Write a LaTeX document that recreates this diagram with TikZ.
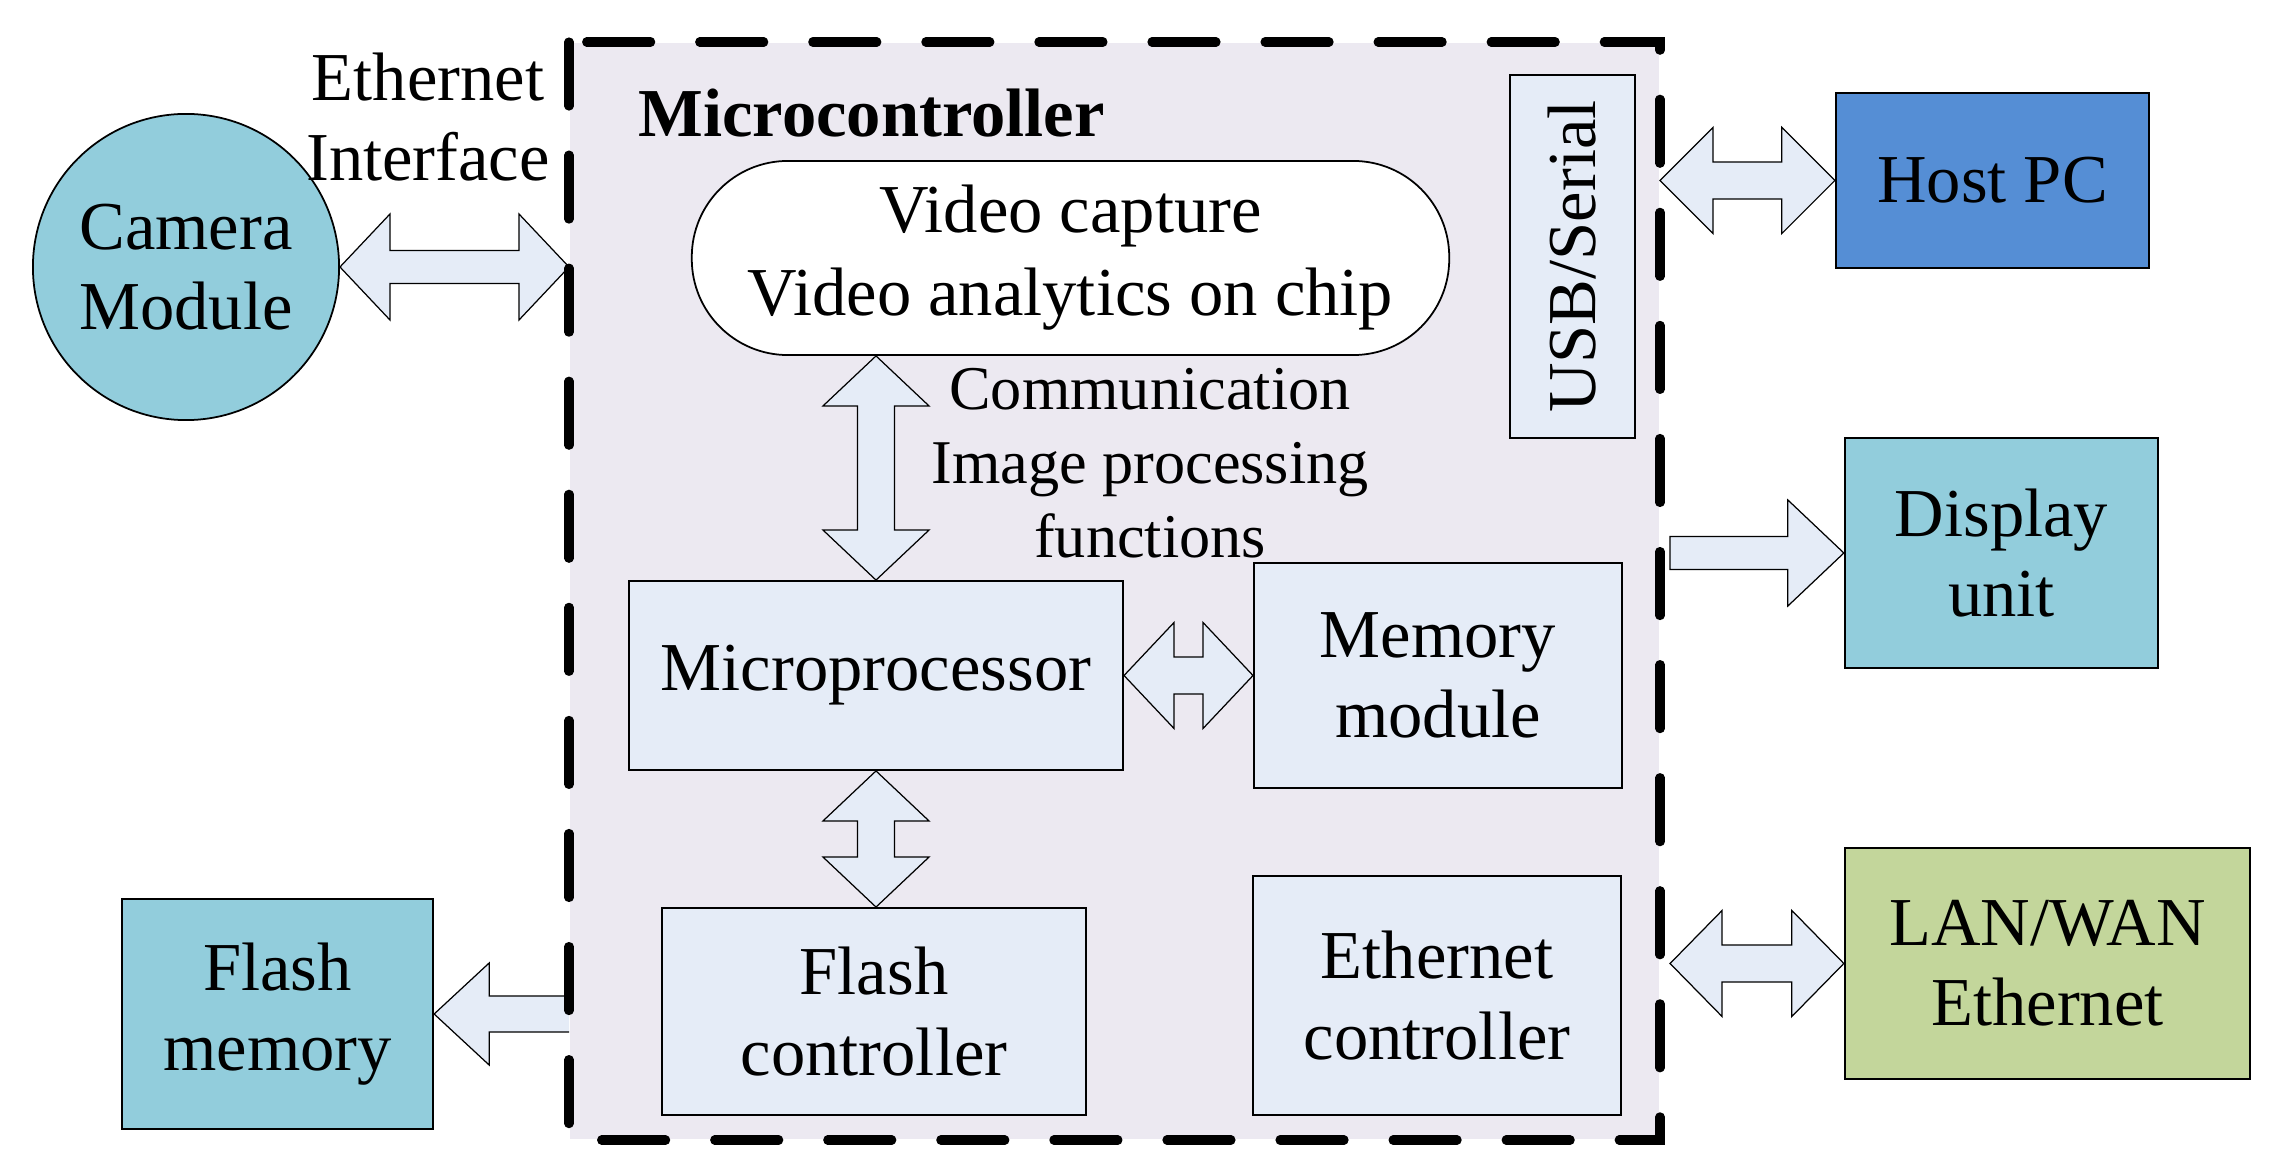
\documentclass[tikz,border=0pt]{standalone}
\usepackage{fontspec}
\setmainfont{Liberation Serif}
\usetikzlibrary{calc}
\definecolor{mcfill}{RGB}{236,233,241}
\definecolor{lblue}{RGB}{229,236,247}
\definecolor{tealbox}{RGB}{146,205,220}
\definecolor{hostblue}{RGB}{85,142,213}
\definecolor{lgreen}{RGB}{195,214,155}
\tikzset{
 lbl/.style={font=\fontsize{19.5}{22.8}\selectfont, align=center, inner sep=0pt},
 inbox/.style={lbl, draw, line width=0.5pt, fill=lblue, rectangle},
 extbox/.style={lbl, draw, line width=0.6pt, rectangle},
 barrow/.style={draw, fill=lblue, line width=0.35pt, line join=miter},
 mcborder/.style={line width=2.6pt, line cap=round, dash pattern=on 6.4mm off 4.9mm},
}
% horizontal double block arrow: #1 left tip, #2 right tip, #3 head length, #4 head half width, #5 shaft half width
\newcommand\hdblarrow[5]{%
 \draw[barrow] let \p1=#1, \p2=#2 in
 (\x1,\y1) -- (\x1+#3,\y1+#4) -- (\x1+#3,\y1+#5) -- (\x2-#3,\y1+#5) -- (\x2-#3,\y1+#4)
 -- (\x2,\y1) -- (\x2-#3,\y1-#4) -- (\x2-#3,\y1-#5) -- (\x1+#3,\y1-#5) -- (\x1+#3,\y1-#4) -- cycle;}
% vertical double block arrow: #1 top tip, #2 bottom tip
\newcommand\vdblarrow[5]{%
 \draw[barrow] let \p1=#1, \p2=#2 in
 (\x1,\y1) -- (\x1+#4,\y1-#3) -- (\x1+#5,\y1-#3) -- (\x1+#5,\y2+#3) -- (\x1+#4,\y2+#3)
 -- (\x1,\y2) -- (\x1-#4,\y2+#3) -- (\x1-#5,\y2+#3) -- (\x1-#5,\y1-#3) -- (\x1-#4,\y1-#3) -- cycle;}
% right-pointing block arrow: #1 tail, #2 tip
\newcommand\rblockarrow[5]{%
 \draw[barrow] let \p1=#1, \p2=#2 in
 (\x1,\y1+#5) -- (\x2-#3,\y1+#5) -- (\x2-#3,\y1+#4) -- (\x2,\y1) -- (\x2-#3,\y1-#4)
 -- (\x2-#3,\y1-#5) -- (\x1,\y1-#5) -- cycle;}
% left-pointing block arrow with open tail: #1 tip (left), #2 tail (right)
\newcommand\lblockarrow[5]{%
 \fill[lblue] let \p1=#1, \p2=#2 in
 (\x1,\y1) -- (\x1+#3,\y1+#4) -- (\x1+#3,\y1+#5) -- (\x2,\y1+#5) -- (\x2,\y1-#5)
 -- (\x1+#3,\y1-#5) -- (\x1+#3,\y1-#4) -- cycle;
 \draw[barrow, fill=none] let \p1=#1, \p2=#2 in
 (\x2,\y1+#5) -- (\x1+#3,\y1+#5) -- (\x1+#3,\y1+#4) -- (\x1,\y1) -- (\x1+#3,\y1-#4)
 -- (\x1+#3,\y1-#5) -- (\x2,\y1-#5);}
\begin{document}
\begin{tikzpicture}[x=0.01cm, y=-0.01cm]
\useasboundingbox (0,0) rectangle (2288,1167);
% microcontroller area
\node[fill=mcfill, minimum width=10.89cm, minimum height=10.96cm, inner sep=0pt, anchor=north west] (mc) at (569,42) {};
% external blocks
\node[circle, draw, line width=0.5pt, fill=tealbox, minimum size=3.06cm, lbl] (cam) at (186,267) {Camera\\Module};
\node[extbox, fill=hostblue, minimum width=3.13cm, minimum height=1.75cm] (host) at (1992.5,180.5) {Host PC};
\node[extbox, fill=tealbox, minimum width=3.13cm, minimum height=2.30cm] (disp) at (2001.5,553) {Display\\unit};
\node[extbox, fill=tealbox, minimum width=3.11cm, minimum height=2.30cm] (fm) at (277.5,1014) {Flash\\memory};
\node[extbox, fill=lgreen, minimum width=4.05cm, minimum height=2.31cm] (lan) at (2047.5,963.5) {LAN/WAN\\Ethernet};
% internal blocks
\node[lbl, draw, fill=white, line width=0.5pt, rounded corners=0.96cm, minimum width=7.57cm, minimum height=1.94cm, font=\fontsize{19.5}{23.6}\selectfont] (vid) at (1070.5,258) {\raisebox{-0.04cm}{Video capture}\\\raisebox{-0.04cm}{Video analytics on chip}};
\node[inbox, minimum width=1.25cm, minimum height=3.63cm] (usb) at (1572.5,256.5) {\rotatebox{90}{USB/Serial}};
\node[inbox, minimum width=4.94cm, minimum height=1.89cm] (mp) at (876,675.5) {Microprocessor};
\node[inbox, minimum width=3.68cm, minimum height=2.25cm] (mem) at (1438,675.5) {Memory\\module};
\node[inbox, minimum width=4.24cm, minimum height=2.07cm] (fc) at (874,1011.5) {Flash\\controller};
\node[inbox, minimum width=3.68cm, minimum height=2.39cm] (ec) at (1437,995.5) {Ethernet\\controller};
% block arrows
\hdblarrow{(cam.east)}{(mc.west |- cam.east)}{0.5cm}{0.53cm}{0.165cm}
\hdblarrow{(mc.east |- host.west)}{(host.west)}{0.53cm}{0.53cm}{0.185cm}
\rblockarrow{($(mc.east |- disp.west)+(0.1cm,0)$)}{(disp.west)}{0.56cm}{0.53cm}{0.165cm}
\vdblarrow{(vid.south -| mp.north)}{(mp.north)}{0.5cm}{0.53cm}{0.185cm}
\hdblarrow{(mp.east)}{(mem.west |- mp.east)}{0.5cm}{0.53cm}{0.185cm}
\vdblarrow{(mp.south)}{(mp.south |- fc.north)}{0.5cm}{0.53cm}{0.185cm}
\lblockarrow{(fm.east)}{(mc.west |- fm.east)}{0.55cm}{0.51cm}{0.18cm}
\hdblarrow{($(mc.east |- lan.west)+(0.1cm,0)$)}{(lan.west)}{0.52cm}{0.53cm}{0.185cm}
% dashed border
\draw[mcborder] (mc.north west) rectangle (mc.south east);
% labels
\node[lbl] (ethif) at (428,117) {Ethernet\\Interface};
\node[lbl, font=\bfseries\fontsize{19.5}{22.8}\selectfont, anchor=base west] (mctitle) at (638,137) {Microcontroller};
\node[lbl, font=\fontsize{17.7}{21}\selectfont] (comm) at (1150,463) {Communication\\Image processing\\functions};
\end{tikzpicture}
\end{document}
